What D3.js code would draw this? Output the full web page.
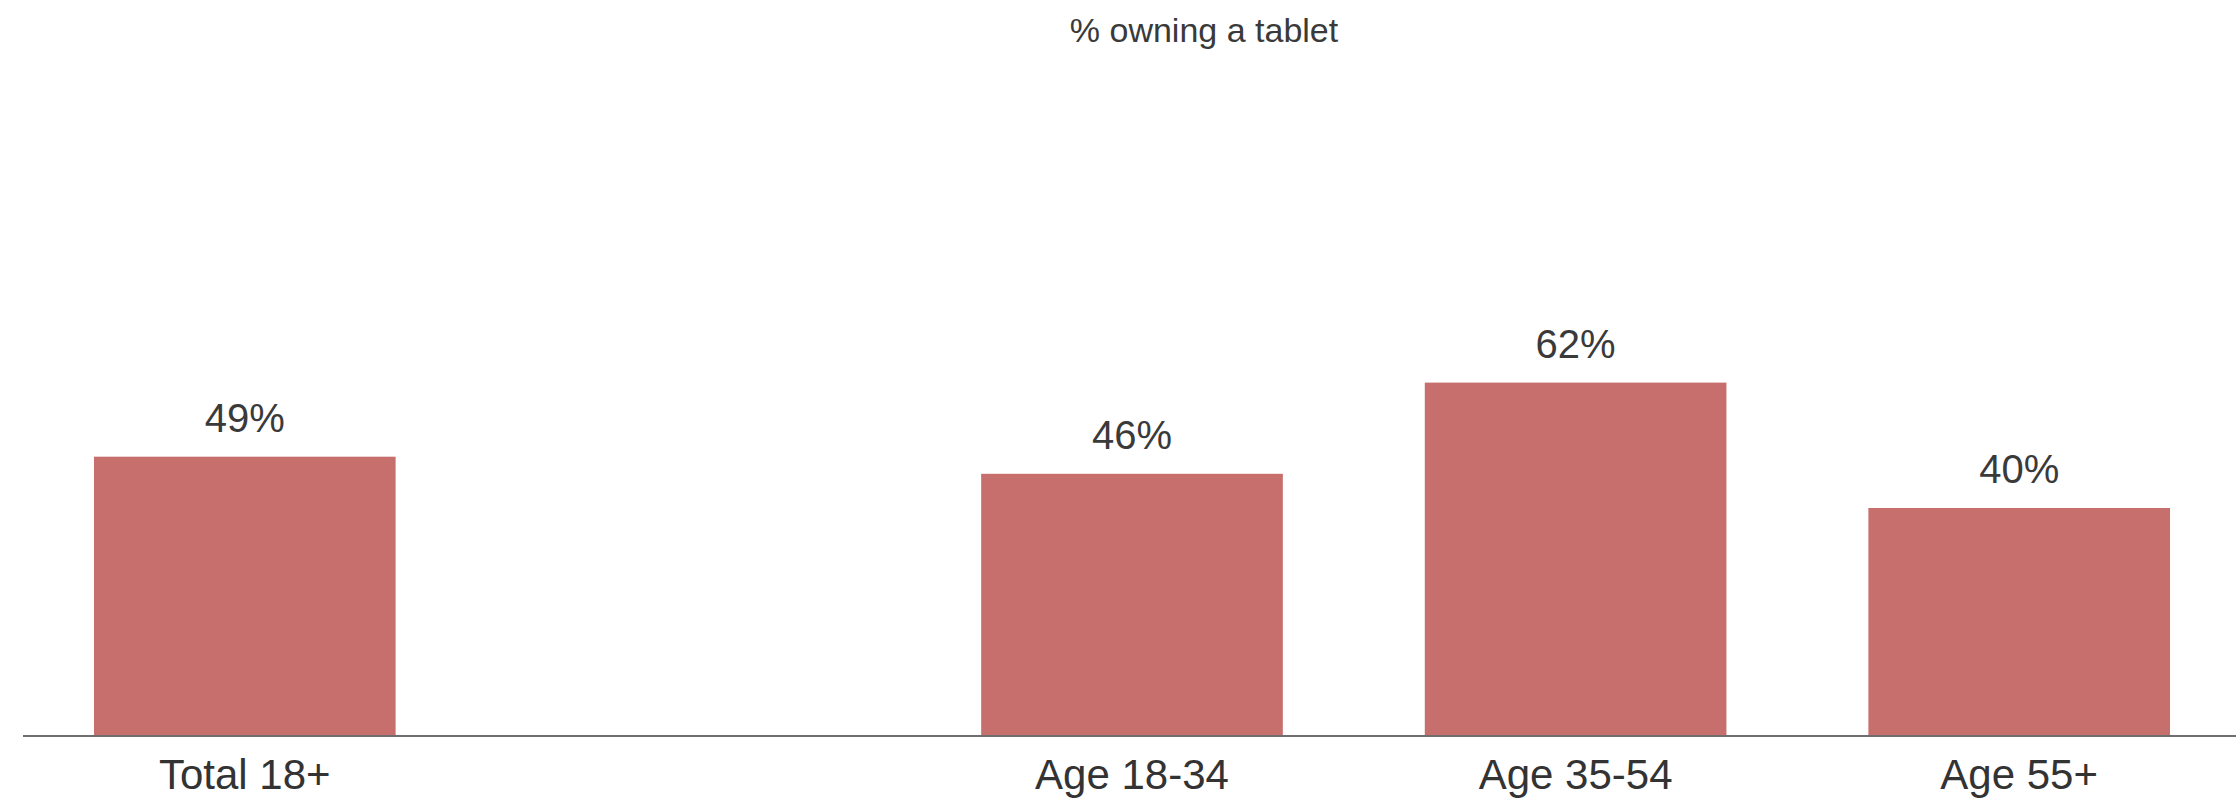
<!DOCTYPE html>
<html>
<head>
<meta charset="utf-8">
<script src="https://cdn.jsdelivr.net/npm/d3@7"></script>
<style>
  html, body { margin: 0; padding: 0; background: #ffffff; }
  svg { display: block; }
</style>
</head>
<body>
<div id="chart"></div>
<script>
// Tablet ownership by age group
const categories = ["Total 18+", "", "Age 18-34", "Age 35-54", "Age 55+"];
const values = [49, null, 46, 62, 40];
const valueLabels = ["49%", "", "46%", "62%", "40%"];
const title = "% owning a tablet";

const W = 2236, H = 799;
const baseline = 736;

const svg = d3.select("#chart").append("svg")
  .attr("width", W).attr("height", H);

const x = d3.scaleBand()
  .domain(d3.range(categories.length))
  .range([23, 2241])
  .paddingInner(0.32)
  .paddingOuter(0.16);

const y = d3.scaleLinear()
  .domain([0, 100])
  .range([baseline, baseline - 570]);

const fontFamily = "'Liberation Sans', Arial, sans-serif";

// title
svg.append("text")
  .attr("x", 1204).attr("y", 42)
  .attr("text-anchor", "middle")
  .attr("font-family", fontFamily)
  .attr("font-size", 34)
  .attr("fill", "#3a3a3a")
  .text(title);

const data = categories.map((c, i) => ({ c, v: values[i], label: valueLabels[i], i }))
  .filter(d => d.v != null);

// bars
svg.selectAll("rect.bar").data(data).enter().append("rect")
  .attr("class", "bar")
  .attr("x", d => x(d.i))
  .attr("width", x.bandwidth())
  .attr("y", d => y(d.v))
  .attr("height", d => y(0) - y(d.v))
  .attr("fill", "#c76f6d");

// value labels
svg.selectAll("text.val").data(data).enter().append("text")
  .attr("class", "val")
  .attr("x", d => x(d.i) + x.bandwidth() / 2)
  .attr("y", d => y(d.v) - 25)
  .attr("text-anchor", "middle")
  .attr("font-family", fontFamily)
  .attr("font-size", 40)
  .attr("fill", "#3a3a3a")
  .text(d => d.label);

// axis line
svg.append("line")
  .attr("x1", 23).attr("x2", W)
  .attr("y1", baseline).attr("y2", baseline)
  .attr("stroke", "#6e6e6e").attr("stroke-width", 2);

// category labels
svg.selectAll("text.cat").data(data).enter().append("text")
  .attr("class", "cat")
  .attr("x", d => x(d.i) + x.bandwidth() / 2)
  .attr("y", 789)
  .attr("text-anchor", "middle")
  .attr("font-family", fontFamily)
  .attr("font-size", 42)
  .attr("fill", "#333333")
  .text(d => d.c);
</script>
</body>
</html>
